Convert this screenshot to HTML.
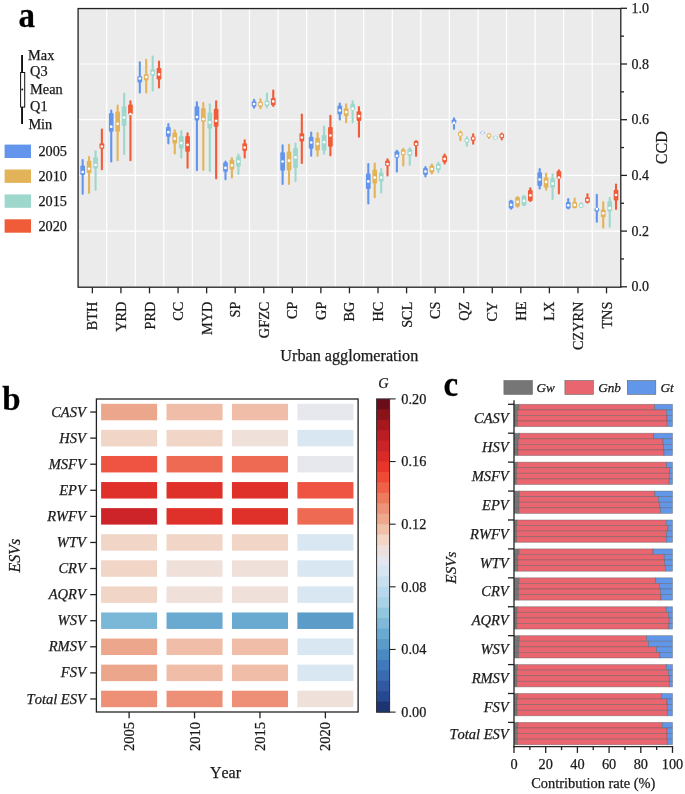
<!DOCTYPE html>
<html><head><meta charset="utf-8"><title>figure</title>
<style>
html,body{margin:0;padding:0;background:#fff;}
body{width:685px;height:794px;overflow:hidden;}
svg{display:block;will-change:transform;}
text{font-family:'Liberation Serif', serif;fill:#1a1a1a;font-kerning:none;stroke:#1a1a1a;stroke-width:0.25px;}
.t14{font-size:14.3px;}
.t16{font-size:16px;}
.t14r{font-size:14px;}
.t146{font-size:14.6px;}
.i14b{font-size:14.5px;font-style:italic;}
.i14c{font-size:14.5px;font-style:italic;}
.i13{font-size:13.2px;font-style:italic;}
.i14{font-size:14.3px;font-style:italic;}
.i16{font-size:16px;font-style:italic;}
.lab{font-size:33px;font-weight:bold;fill:#000;}
</style></head>
<body><svg width="685" height="794" viewBox="0 0 685 794">
<rect width="685" height="794" fill="#fff"/>
<rect x="78.1" y="8.55" width="542.6999999999999" height="278.65" fill="#EAEBEA"/>
<line x1="78.1" y1="231.10" x2="620.8" y2="231.10" stroke="#fff" stroke-width="1.2"/>
<line x1="78.1" y1="175.40" x2="620.8" y2="175.40" stroke="#fff" stroke-width="1.2"/>
<line x1="78.1" y1="119.70" x2="620.8" y2="119.70" stroke="#fff" stroke-width="1.2"/>
<line x1="78.1" y1="64.00" x2="620.8" y2="64.00" stroke="#fff" stroke-width="1.2"/>
<line x1="106.66" y1="8.55" x2="106.66" y2="286.8" stroke="#fff" stroke-width="1.2"/>
<line x1="135.23" y1="8.55" x2="135.23" y2="286.8" stroke="#fff" stroke-width="1.2"/>
<line x1="163.79" y1="8.55" x2="163.79" y2="286.8" stroke="#fff" stroke-width="1.2"/>
<line x1="192.35" y1="8.55" x2="192.35" y2="286.8" stroke="#fff" stroke-width="1.2"/>
<line x1="220.92" y1="8.55" x2="220.92" y2="286.8" stroke="#fff" stroke-width="1.2"/>
<line x1="249.48" y1="8.55" x2="249.48" y2="286.8" stroke="#fff" stroke-width="1.2"/>
<line x1="278.04" y1="8.55" x2="278.04" y2="286.8" stroke="#fff" stroke-width="1.2"/>
<line x1="306.61" y1="8.55" x2="306.61" y2="286.8" stroke="#fff" stroke-width="1.2"/>
<line x1="335.17" y1="8.55" x2="335.17" y2="286.8" stroke="#fff" stroke-width="1.2"/>
<line x1="363.73" y1="8.55" x2="363.73" y2="286.8" stroke="#fff" stroke-width="1.2"/>
<line x1="392.29" y1="8.55" x2="392.29" y2="286.8" stroke="#fff" stroke-width="1.2"/>
<line x1="420.86" y1="8.55" x2="420.86" y2="286.8" stroke="#fff" stroke-width="1.2"/>
<line x1="449.42" y1="8.55" x2="449.42" y2="286.8" stroke="#fff" stroke-width="1.2"/>
<line x1="477.98" y1="8.55" x2="477.98" y2="286.8" stroke="#fff" stroke-width="1.2"/>
<line x1="506.55" y1="8.55" x2="506.55" y2="286.8" stroke="#fff" stroke-width="1.2"/>
<line x1="535.11" y1="8.55" x2="535.11" y2="286.8" stroke="#fff" stroke-width="1.2"/>
<line x1="563.67" y1="8.55" x2="563.67" y2="286.8" stroke="#fff" stroke-width="1.2"/>
<line x1="592.24" y1="8.55" x2="592.24" y2="286.8" stroke="#fff" stroke-width="1.2"/>
<line x1="82.68" y1="160.05" x2="82.68" y2="193.65" stroke="#6495ED" stroke-width="2.1" stroke-linecap="round"/>
<rect x="80.33" y="165.50" width="4.7" height="9.50" rx="1" fill="#6495ED"/>
<circle cx="82.68" cy="172.00" r="1.35" fill="#fff"/>
<line x1="89.08" y1="157.05" x2="89.08" y2="192.85" stroke="#E3B35A" stroke-width="2.1" stroke-linecap="round"/>
<rect x="86.73" y="160.70" width="4.7" height="12.30" rx="1" fill="#E3B35A"/>
<circle cx="89.08" cy="168.80" r="1.35" fill="#fff"/>
<line x1="95.58" y1="151.35" x2="95.58" y2="189.65" stroke="#9ED8CD" stroke-width="2.1" stroke-linecap="round"/>
<rect x="93.23" y="157.30" width="4.7" height="11.30" rx="1" fill="#9ED8CD"/>
<circle cx="95.58" cy="165.00" r="1.35" fill="#fff"/>
<line x1="101.88" y1="129.65" x2="101.88" y2="169.15" stroke="#EF5C37" stroke-width="2.1" stroke-linecap="round"/>
<rect x="99.53" y="143.30" width="4.7" height="5.50" rx="1" fill="#EF5C37"/>
<circle cx="101.88" cy="146.50" r="1.35" fill="#fff"/>
<line x1="111.24" y1="110.65" x2="111.24" y2="161.55" stroke="#6495ED" stroke-width="2.1" stroke-linecap="round"/>
<rect x="108.89" y="113.00" width="4.7" height="18.70" rx="1" fill="#6495ED"/>
<circle cx="111.24" cy="126.70" r="1.35" fill="#fff"/>
<line x1="117.64" y1="105.65" x2="117.64" y2="160.25" stroke="#E3B35A" stroke-width="2.1" stroke-linecap="round"/>
<rect x="115.29" y="111.50" width="4.7" height="20.20" rx="1" fill="#E3B35A"/>
<circle cx="117.64" cy="123.80" r="1.35" fill="#fff"/>
<line x1="124.14" y1="93.65" x2="124.14" y2="153.95" stroke="#9ED8CD" stroke-width="2.1" stroke-linecap="round"/>
<rect x="121.79" y="106.20" width="4.7" height="19.80" rx="1" fill="#9ED8CD"/>
<circle cx="124.14" cy="117.60" r="1.35" fill="#fff"/>
<line x1="130.44" y1="101.25" x2="130.44" y2="160.25" stroke="#EF5C37" stroke-width="2.1" stroke-linecap="round"/>
<rect x="128.09" y="104.60" width="4.7" height="9.70" rx="1" fill="#EF5C37"/>
<circle cx="130.44" cy="114.00" r="1.35" fill="#fff"/>
<line x1="139.81" y1="62.25" x2="139.81" y2="92.55" stroke="#6495ED" stroke-width="2.1" stroke-linecap="round"/>
<rect x="137.46" y="76.30" width="4.7" height="6.20" rx="1" fill="#6495ED"/>
<circle cx="139.81" cy="78.50" r="1.35" fill="#fff"/>
<line x1="146.21" y1="59.75" x2="146.21" y2="92.55" stroke="#E3B35A" stroke-width="2.1" stroke-linecap="round"/>
<rect x="143.86" y="74.30" width="4.7" height="6.30" rx="1" fill="#E3B35A"/>
<circle cx="146.21" cy="77.00" r="1.35" fill="#fff"/>
<line x1="152.71" y1="56.45" x2="152.71" y2="90.45" stroke="#9ED8CD" stroke-width="2.1" stroke-linecap="round"/>
<rect x="150.36" y="69.60" width="4.7" height="6.00" rx="1" fill="#9ED8CD"/>
<circle cx="152.71" cy="72.80" r="1.35" fill="#fff"/>
<line x1="159.01" y1="61.45" x2="159.01" y2="87.45" stroke="#EF5C37" stroke-width="2.1" stroke-linecap="round"/>
<rect x="156.66" y="68.00" width="4.7" height="11.50" rx="1" fill="#EF5C37"/>
<circle cx="159.01" cy="74.40" r="1.35" fill="#fff"/>
<line x1="168.37" y1="124.05" x2="168.37" y2="143.35" stroke="#6495ED" stroke-width="2.1" stroke-linecap="round"/>
<rect x="166.02" y="126.90" width="4.7" height="9.90" rx="1" fill="#6495ED"/>
<circle cx="168.37" cy="132.20" r="1.35" fill="#fff"/>
<line x1="174.77" y1="130.35" x2="174.77" y2="153.45" stroke="#E3B35A" stroke-width="2.1" stroke-linecap="round"/>
<rect x="172.42" y="132.50" width="4.7" height="11.00" rx="1" fill="#E3B35A"/>
<circle cx="174.77" cy="138.70" r="1.35" fill="#fff"/>
<line x1="181.27" y1="131.35" x2="181.27" y2="157.55" stroke="#9ED8CD" stroke-width="2.1" stroke-linecap="round"/>
<rect x="178.92" y="135.90" width="4.7" height="12.60" rx="1" fill="#9ED8CD"/>
<circle cx="181.27" cy="143.10" r="1.35" fill="#fff"/>
<line x1="187.57" y1="133.25" x2="187.57" y2="167.65" stroke="#EF5C37" stroke-width="2.1" stroke-linecap="round"/>
<rect x="185.22" y="135.90" width="4.7" height="15.80" rx="1" fill="#EF5C37"/>
<circle cx="187.57" cy="144.80" r="1.35" fill="#fff"/>
<line x1="196.93" y1="102.35" x2="196.93" y2="170.15" stroke="#6495ED" stroke-width="2.1" stroke-linecap="round"/>
<rect x="194.58" y="106.30" width="4.7" height="14.10" rx="1" fill="#6495ED"/>
<circle cx="196.93" cy="117.00" r="1.35" fill="#fff"/>
<line x1="203.33" y1="102.95" x2="203.33" y2="169.85" stroke="#E3B35A" stroke-width="2.1" stroke-linecap="round"/>
<rect x="200.98" y="108.20" width="4.7" height="13.50" rx="1" fill="#E3B35A"/>
<circle cx="203.33" cy="119.20" r="1.35" fill="#fff"/>
<line x1="209.83" y1="104.25" x2="209.83" y2="171.05" stroke="#9ED8CD" stroke-width="2.1" stroke-linecap="round"/>
<rect x="207.48" y="112.60" width="4.7" height="16.20" rx="1" fill="#9ED8CD"/>
<circle cx="209.83" cy="122.40" r="1.35" fill="#fff"/>
<line x1="216.13" y1="101.35" x2="216.13" y2="178.35" stroke="#EF5C37" stroke-width="2.1" stroke-linecap="round"/>
<rect x="213.78" y="108.80" width="4.7" height="17.90" rx="1" fill="#EF5C37"/>
<circle cx="216.13" cy="120.80" r="1.35" fill="#fff"/>
<line x1="225.50" y1="161.65" x2="225.50" y2="179.25" stroke="#6495ED" stroke-width="2.1" stroke-linecap="round"/>
<rect x="223.15" y="162.20" width="4.7" height="9.50" rx="1" fill="#6495ED"/>
<circle cx="225.50" cy="167.90" r="1.35" fill="#fff"/>
<line x1="231.90" y1="158.25" x2="231.90" y2="177.55" stroke="#E3B35A" stroke-width="2.1" stroke-linecap="round"/>
<rect x="229.55" y="159.70" width="4.7" height="9.70" rx="1" fill="#E3B35A"/>
<circle cx="231.90" cy="165.40" r="1.35" fill="#fff"/>
<line x1="238.40" y1="154.45" x2="238.40" y2="173.85" stroke="#9ED8CD" stroke-width="2.1" stroke-linecap="round"/>
<rect x="236.05" y="156.60" width="4.7" height="10.10" rx="1" fill="#9ED8CD"/>
<circle cx="238.40" cy="161.60" r="1.35" fill="#fff"/>
<line x1="244.70" y1="140.25" x2="244.70" y2="157.45" stroke="#EF5C37" stroke-width="2.1" stroke-linecap="round"/>
<rect x="242.35" y="143.30" width="4.7" height="7.60" rx="1" fill="#EF5C37"/>
<circle cx="244.70" cy="147.50" r="1.35" fill="#fff"/>
<line x1="254.06" y1="99.75" x2="254.06" y2="107.75" stroke="#6495ED" stroke-width="2.1" stroke-linecap="round"/>
<rect x="251.71" y="101.20" width="4.7" height="5.50" rx="1" fill="#6495ED"/>
<circle cx="254.06" cy="104.00" r="1.35" fill="#fff"/>
<line x1="260.46" y1="99.35" x2="260.46" y2="108.25" stroke="#E3B35A" stroke-width="2.1" stroke-linecap="round"/>
<rect x="258.11" y="101.70" width="4.7" height="5.00" rx="1" fill="#E3B35A"/>
<circle cx="260.46" cy="104.20" r="1.35" fill="#fff"/>
<line x1="266.96" y1="93.65" x2="266.96" y2="107.35" stroke="#9ED8CD" stroke-width="2.1" stroke-linecap="round"/>
<rect x="264.61" y="100.80" width="4.7" height="5.10" rx="1" fill="#9ED8CD"/>
<circle cx="266.96" cy="103.30" r="1.35" fill="#fff"/>
<line x1="273.26" y1="90.55" x2="273.26" y2="106.05" stroke="#EF5C37" stroke-width="2.1" stroke-linecap="round"/>
<rect x="270.91" y="97.90" width="4.7" height="7.30" rx="1" fill="#EF5C37"/>
<circle cx="273.26" cy="101.40" r="1.35" fill="#fff"/>
<line x1="282.62" y1="145.35" x2="282.62" y2="183.95" stroke="#6495ED" stroke-width="2.1" stroke-linecap="round"/>
<rect x="280.27" y="152.20" width="4.7" height="18.60" rx="1" fill="#6495ED"/>
<circle cx="282.62" cy="161.50" r="1.35" fill="#fff"/>
<line x1="289.02" y1="144.85" x2="289.02" y2="183.95" stroke="#E3B35A" stroke-width="2.1" stroke-linecap="round"/>
<rect x="286.67" y="151.40" width="4.7" height="19.10" rx="1" fill="#E3B35A"/>
<circle cx="289.02" cy="160.70" r="1.35" fill="#fff"/>
<line x1="295.52" y1="143.55" x2="295.52" y2="180.85" stroke="#9ED8CD" stroke-width="2.1" stroke-linecap="round"/>
<rect x="293.17" y="148.10" width="4.7" height="19.90" rx="1" fill="#9ED8CD"/>
<circle cx="295.52" cy="157.30" r="1.35" fill="#fff"/>
<line x1="301.82" y1="114.55" x2="301.82" y2="162.95" stroke="#EF5C37" stroke-width="2.1" stroke-linecap="round"/>
<rect x="299.47" y="133.30" width="4.7" height="8.20" rx="1" fill="#EF5C37"/>
<circle cx="301.82" cy="137.50" r="1.35" fill="#fff"/>
<line x1="311.19" y1="132.45" x2="311.19" y2="155.65" stroke="#6495ED" stroke-width="2.1" stroke-linecap="round"/>
<rect x="308.84" y="136.70" width="4.7" height="12.10" rx="1" fill="#6495ED"/>
<circle cx="311.19" cy="142.50" r="1.35" fill="#fff"/>
<line x1="317.59" y1="133.15" x2="317.59" y2="155.85" stroke="#E3B35A" stroke-width="2.1" stroke-linecap="round"/>
<rect x="315.24" y="137.70" width="4.7" height="12.90" rx="1" fill="#E3B35A"/>
<circle cx="317.59" cy="143.80" r="1.35" fill="#fff"/>
<line x1="324.09" y1="126.45" x2="324.09" y2="153.75" stroke="#9ED8CD" stroke-width="2.1" stroke-linecap="round"/>
<rect x="321.74" y="135.00" width="4.7" height="15.60" rx="1" fill="#9ED8CD"/>
<circle cx="324.09" cy="142.20" r="1.35" fill="#fff"/>
<line x1="330.39" y1="115.85" x2="330.39" y2="155.35" stroke="#EF5C37" stroke-width="2.1" stroke-linecap="round"/>
<rect x="328.04" y="127.00" width="4.7" height="19.80" rx="1" fill="#EF5C37"/>
<circle cx="330.39" cy="135.50" r="1.35" fill="#fff"/>
<line x1="339.75" y1="103.45" x2="339.75" y2="119.45" stroke="#6495ED" stroke-width="2.1" stroke-linecap="round"/>
<rect x="337.40" y="105.40" width="4.7" height="9.20" rx="1" fill="#6495ED"/>
<circle cx="339.75" cy="110.40" r="1.35" fill="#fff"/>
<line x1="346.15" y1="104.25" x2="346.15" y2="122.35" stroke="#E3B35A" stroke-width="2.1" stroke-linecap="round"/>
<rect x="343.80" y="108.30" width="4.7" height="7.60" rx="1" fill="#E3B35A"/>
<circle cx="346.15" cy="112.10" r="1.35" fill="#fff"/>
<line x1="352.65" y1="101.35" x2="352.65" y2="122.35" stroke="#9ED8CD" stroke-width="2.1" stroke-linecap="round"/>
<rect x="350.30" y="104.10" width="4.7" height="5.80" rx="1" fill="#9ED8CD"/>
<circle cx="352.65" cy="108.70" r="1.35" fill="#fff"/>
<line x1="358.95" y1="107.15" x2="358.95" y2="136.65" stroke="#EF5C37" stroke-width="2.1" stroke-linecap="round"/>
<rect x="356.60" y="111.20" width="4.7" height="9.70" rx="1" fill="#EF5C37"/>
<circle cx="358.95" cy="116.20" r="1.35" fill="#fff"/>
<line x1="368.31" y1="164.05" x2="368.31" y2="203.55" stroke="#6495ED" stroke-width="2.1" stroke-linecap="round"/>
<rect x="365.96" y="173.40" width="4.7" height="15.50" rx="1" fill="#6495ED"/>
<circle cx="368.31" cy="181.40" r="1.35" fill="#fff"/>
<line x1="374.71" y1="163.45" x2="374.71" y2="197.25" stroke="#E3B35A" stroke-width="2.1" stroke-linecap="round"/>
<rect x="372.36" y="169.60" width="4.7" height="13.90" rx="1" fill="#E3B35A"/>
<circle cx="374.71" cy="177.50" r="1.35" fill="#fff"/>
<line x1="381.21" y1="169.05" x2="381.21" y2="192.55" stroke="#9ED8CD" stroke-width="2.1" stroke-linecap="round"/>
<rect x="378.86" y="172.50" width="4.7" height="9.10" rx="1" fill="#9ED8CD"/>
<circle cx="381.21" cy="177.60" r="1.35" fill="#fff"/>
<line x1="387.51" y1="159.35" x2="387.51" y2="175.55" stroke="#EF5C37" stroke-width="2.1" stroke-linecap="round"/>
<rect x="385.16" y="160.40" width="4.7" height="5.50" rx="1" fill="#EF5C37"/>
<circle cx="387.51" cy="164.00" r="1.35" fill="#fff"/>
<line x1="396.88" y1="150.85" x2="396.88" y2="171.45" stroke="#6495ED" stroke-width="2.1" stroke-linecap="round"/>
<rect x="394.53" y="151.30" width="4.7" height="6.40" rx="1" fill="#6495ED"/>
<circle cx="396.88" cy="155.80" r="1.35" fill="#fff"/>
<line x1="403.28" y1="148.85" x2="403.28" y2="165.45" stroke="#E3B35A" stroke-width="2.1" stroke-linecap="round"/>
<rect x="400.93" y="149.50" width="4.7" height="5.40" rx="1" fill="#E3B35A"/>
<circle cx="403.28" cy="152.90" r="1.35" fill="#fff"/>
<line x1="409.78" y1="148.35" x2="409.78" y2="164.85" stroke="#9ED8CD" stroke-width="2.1" stroke-linecap="round"/>
<rect x="407.43" y="149.10" width="4.7" height="6.70" rx="1" fill="#9ED8CD"/>
<circle cx="409.78" cy="153.00" r="1.35" fill="#fff"/>
<line x1="416.08" y1="141.05" x2="416.08" y2="155.85" stroke="#EF5C37" stroke-width="2.1" stroke-linecap="round"/>
<rect x="413.73" y="140.90" width="4.7" height="5.00" rx="1" fill="#EF5C37"/>
<circle cx="416.08" cy="144.00" r="1.35" fill="#fff"/>
<line x1="425.44" y1="167.15" x2="425.44" y2="176.45" stroke="#6495ED" stroke-width="2.1" stroke-linecap="round"/>
<rect x="423.09" y="168.00" width="4.7" height="6.90" rx="1" fill="#6495ED"/>
<circle cx="425.44" cy="171.50" r="1.35" fill="#fff"/>
<line x1="431.84" y1="164.65" x2="431.84" y2="173.55" stroke="#E3B35A" stroke-width="2.1" stroke-linecap="round"/>
<rect x="429.49" y="165.50" width="4.7" height="6.90" rx="1" fill="#E3B35A"/>
<circle cx="431.84" cy="169.00" r="1.35" fill="#fff"/>
<line x1="438.34" y1="162.75" x2="438.34" y2="171.95" stroke="#9ED8CD" stroke-width="2.1" stroke-linecap="round"/>
<rect x="435.99" y="163.60" width="4.7" height="6.30" rx="1" fill="#9ED8CD"/>
<circle cx="438.34" cy="167.10" r="1.35" fill="#fff"/>
<line x1="444.64" y1="154.55" x2="444.64" y2="163.45" stroke="#EF5C37" stroke-width="2.1" stroke-linecap="round"/>
<rect x="442.29" y="155.40" width="4.7" height="6.90" rx="1" fill="#EF5C37"/>
<circle cx="444.64" cy="158.90" r="1.35" fill="#fff"/>
<line x1="454.00" y1="118.35" x2="454.00" y2="128.75" stroke="#6495ED" stroke-width="2.1" stroke-linecap="round"/>
<rect x="451.65" y="119.40" width="4.7" height="4.20" rx="1" fill="#6495ED"/>
<circle cx="454.00" cy="122.90" r="1.35" fill="#fff"/>
<line x1="460.40" y1="131.65" x2="460.40" y2="140.15" stroke="#E3B35A" stroke-width="2.1" stroke-linecap="round"/>
<rect x="458.05" y="132.00" width="4.7" height="3.90" rx="1" fill="#E3B35A"/>
<circle cx="460.40" cy="134.40" r="1.35" fill="#fff"/>
<line x1="466.90" y1="137.35" x2="466.90" y2="145.75" stroke="#9ED8CD" stroke-width="2.1" stroke-linecap="round"/>
<rect x="464.55" y="138.50" width="4.7" height="4.00" rx="1" fill="#9ED8CD"/>
<circle cx="466.90" cy="140.50" r="1.35" fill="#fff"/>
<line x1="473.20" y1="134.35" x2="473.20" y2="143.75" stroke="#EF5C37" stroke-width="2.1" stroke-linecap="round"/>
<rect x="470.85" y="136.60" width="4.7" height="4.10" rx="1" fill="#EF5C37"/>
<circle cx="473.20" cy="138.50" r="1.35" fill="#fff"/>
<line x1="482.57" y1="132.35" x2="482.57" y2="133.35" stroke="#6495ED" stroke-width="2.1" stroke-linecap="round"/>
<rect x="480.22" y="132.00" width="4.7" height="1.60" rx="1" fill="#6495ED"/>
<circle cx="482.57" cy="132.80" r="1.35" fill="#fff"/>
<line x1="488.97" y1="134.15" x2="488.97" y2="137.95" stroke="#E3B35A" stroke-width="2.1" stroke-linecap="round"/>
<rect x="486.62" y="133.70" width="4.7" height="3.50" rx="1" fill="#E3B35A"/>
<circle cx="488.97" cy="135.50" r="1.35" fill="#fff"/>
<line x1="495.47" y1="136.55" x2="495.47" y2="138.75" stroke="#9ED8CD" stroke-width="2.1" stroke-linecap="round"/>
<rect x="493.12" y="136.00" width="4.7" height="3.30" rx="1" fill="#9ED8CD"/>
<circle cx="495.47" cy="137.70" r="1.35" fill="#fff"/>
<line x1="501.77" y1="133.65" x2="501.77" y2="139.45" stroke="#EF5C37" stroke-width="2.1" stroke-linecap="round"/>
<rect x="499.42" y="133.70" width="4.7" height="4.40" rx="1" fill="#EF5C37"/>
<circle cx="501.77" cy="135.90" r="1.35" fill="#fff"/>
<line x1="511.13" y1="200.85" x2="511.13" y2="208.65" stroke="#6495ED" stroke-width="2.1" stroke-linecap="round"/>
<rect x="508.78" y="200.40" width="4.7" height="8.20" rx="1" fill="#6495ED"/>
<circle cx="511.13" cy="204.80" r="1.35" fill="#fff"/>
<line x1="517.53" y1="197.05" x2="517.53" y2="206.65" stroke="#E3B35A" stroke-width="2.1" stroke-linecap="round"/>
<rect x="515.18" y="196.90" width="4.7" height="9.90" rx="1" fill="#E3B35A"/>
<circle cx="517.53" cy="201.80" r="1.35" fill="#fff"/>
<line x1="524.03" y1="196.15" x2="524.03" y2="205.35" stroke="#9ED8CD" stroke-width="2.1" stroke-linecap="round"/>
<rect x="521.68" y="195.80" width="4.7" height="9.70" rx="1" fill="#9ED8CD"/>
<circle cx="524.03" cy="200.90" r="1.35" fill="#fff"/>
<line x1="530.33" y1="188.25" x2="530.33" y2="200.95" stroke="#EF5C37" stroke-width="2.1" stroke-linecap="round"/>
<rect x="527.98" y="190.10" width="4.7" height="10.80" rx="1" fill="#EF5C37"/>
<circle cx="530.33" cy="195.40" r="1.35" fill="#fff"/>
<line x1="539.69" y1="169.15" x2="539.69" y2="188.55" stroke="#6495ED" stroke-width="2.1" stroke-linecap="round"/>
<rect x="537.34" y="172.20" width="4.7" height="13.70" rx="1" fill="#6495ED"/>
<circle cx="539.69" cy="179.50" r="1.35" fill="#fff"/>
<line x1="546.09" y1="173.55" x2="546.09" y2="189.65" stroke="#E3B35A" stroke-width="2.1" stroke-linecap="round"/>
<rect x="543.74" y="177.50" width="4.7" height="10.20" rx="1" fill="#E3B35A"/>
<circle cx="546.09" cy="181.90" r="1.35" fill="#fff"/>
<line x1="552.59" y1="174.35" x2="552.59" y2="198.95" stroke="#9ED8CD" stroke-width="2.1" stroke-linecap="round"/>
<rect x="550.24" y="178.00" width="4.7" height="9.70" rx="1" fill="#9ED8CD"/>
<circle cx="552.59" cy="183.70" r="1.35" fill="#fff"/>
<line x1="558.89" y1="170.25" x2="558.89" y2="193.45" stroke="#EF5C37" stroke-width="2.1" stroke-linecap="round"/>
<rect x="556.54" y="171.10" width="4.7" height="7.50" rx="1" fill="#EF5C37"/>
<circle cx="558.89" cy="177.50" r="1.35" fill="#fff"/>
<line x1="568.26" y1="199.15" x2="568.26" y2="208.45" stroke="#6495ED" stroke-width="2.1" stroke-linecap="round"/>
<rect x="565.91" y="202.00" width="4.7" height="6.40" rx="1" fill="#6495ED"/>
<circle cx="568.26" cy="205.30" r="1.35" fill="#fff"/>
<line x1="574.66" y1="198.65" x2="574.66" y2="207.55" stroke="#E3B35A" stroke-width="2.1" stroke-linecap="round"/>
<rect x="572.31" y="202.00" width="4.7" height="6.00" rx="1" fill="#E3B35A"/>
<circle cx="574.66" cy="204.90" r="1.35" fill="#fff"/>
<line x1="581.16" y1="202.95" x2="581.16" y2="206.95" stroke="#9ED8CD" stroke-width="2.1" stroke-linecap="round"/>
<rect x="578.81" y="203.50" width="4.7" height="4.00" rx="1" fill="#9ED8CD"/>
<circle cx="581.16" cy="205.70" r="1.35" fill="#fff"/>
<line x1="587.46" y1="194.25" x2="587.46" y2="202.55" stroke="#EF5C37" stroke-width="2.1" stroke-linecap="round"/>
<rect x="585.11" y="197.20" width="4.7" height="5.50" rx="1" fill="#EF5C37"/>
<circle cx="587.46" cy="200.10" r="1.35" fill="#fff"/>
<line x1="596.82" y1="194.75" x2="596.82" y2="221.65" stroke="#6495ED" stroke-width="2.1" stroke-linecap="round"/>
<rect x="594.47" y="208.00" width="4.7" height="3.50" rx="1" fill="#6495ED"/>
<circle cx="596.82" cy="209.10" r="1.35" fill="#fff"/>
<line x1="603.22" y1="202.35" x2="603.22" y2="227.45" stroke="#E3B35A" stroke-width="2.1" stroke-linecap="round"/>
<rect x="600.87" y="209.50" width="4.7" height="7.70" rx="1" fill="#E3B35A"/>
<circle cx="603.22" cy="213.30" r="1.35" fill="#fff"/>
<line x1="609.72" y1="197.95" x2="609.72" y2="226.75" stroke="#9ED8CD" stroke-width="2.1" stroke-linecap="round"/>
<rect x="607.37" y="201.00" width="4.7" height="10.50" rx="1" fill="#9ED8CD"/>
<circle cx="609.72" cy="208.20" r="1.35" fill="#fff"/>
<line x1="616.02" y1="184.55" x2="616.02" y2="209.05" stroke="#EF5C37" stroke-width="2.1" stroke-linecap="round"/>
<rect x="613.67" y="189.70" width="4.7" height="10.70" rx="1" fill="#EF5C37"/>
<circle cx="616.02" cy="195.00" r="1.35" fill="#fff"/>
<rect x="78.1" y="8.55" width="542.6999999999999" height="278.65" fill="none" stroke="#222" stroke-width="1.3"/>
<line x1="620.8" y1="286.80" x2="627.00" y2="286.80" stroke="#222" stroke-width="1.3"/>
<text x="631.4" y="291.40" class="t14r">0.0</text>
<line x1="620.8" y1="258.95" x2="624.00" y2="258.95" stroke="#222" stroke-width="1.3"/>
<line x1="620.8" y1="231.10" x2="627.00" y2="231.10" stroke="#222" stroke-width="1.3"/>
<text x="631.4" y="235.70" class="t14r">0.2</text>
<line x1="620.8" y1="203.25" x2="624.00" y2="203.25" stroke="#222" stroke-width="1.3"/>
<line x1="620.8" y1="175.40" x2="627.00" y2="175.40" stroke="#222" stroke-width="1.3"/>
<text x="631.4" y="180.00" class="t14r">0.4</text>
<line x1="620.8" y1="147.55" x2="624.00" y2="147.55" stroke="#222" stroke-width="1.3"/>
<line x1="620.8" y1="119.70" x2="627.00" y2="119.70" stroke="#222" stroke-width="1.3"/>
<text x="631.4" y="124.30" class="t14r">0.6</text>
<line x1="620.8" y1="91.85" x2="624.00" y2="91.85" stroke="#222" stroke-width="1.3"/>
<line x1="620.8" y1="64.00" x2="627.00" y2="64.00" stroke="#222" stroke-width="1.3"/>
<text x="631.4" y="68.60" class="t14r">0.8</text>
<line x1="620.8" y1="36.15" x2="624.00" y2="36.15" stroke="#222" stroke-width="1.3"/>
<line x1="620.8" y1="8.30" x2="627.00" y2="8.30" stroke="#222" stroke-width="1.3"/>
<text x="631.4" y="12.90" class="t14r">1.0</text>
<line x1="92.38" y1="287.2" x2="92.38" y2="293.3" stroke="#222" stroke-width="1.3"/>
<text transform="translate(97.38,301.6) rotate(-90)" text-anchor="end" class="t14">BTH</text>
<line x1="120.94" y1="287.2" x2="120.94" y2="293.3" stroke="#222" stroke-width="1.3"/>
<text transform="translate(125.94,301.6) rotate(-90)" text-anchor="end" class="t14">YRD</text>
<line x1="149.51" y1="287.2" x2="149.51" y2="293.3" stroke="#222" stroke-width="1.3"/>
<text transform="translate(154.51,301.6) rotate(-90)" text-anchor="end" class="t14">PRD</text>
<line x1="178.07" y1="287.2" x2="178.07" y2="293.3" stroke="#222" stroke-width="1.3"/>
<text transform="translate(183.07,301.6) rotate(-90)" text-anchor="end" class="t14">CC</text>
<line x1="206.63" y1="287.2" x2="206.63" y2="293.3" stroke="#222" stroke-width="1.3"/>
<text transform="translate(211.63,301.6) rotate(-90)" text-anchor="end" class="t14">MYD</text>
<line x1="235.20" y1="287.2" x2="235.20" y2="293.3" stroke="#222" stroke-width="1.3"/>
<text transform="translate(240.20,301.6) rotate(-90)" text-anchor="end" class="t14">SP</text>
<line x1="263.76" y1="287.2" x2="263.76" y2="293.3" stroke="#222" stroke-width="1.3"/>
<text transform="translate(268.76,301.6) rotate(-90)" text-anchor="end" class="t14">GFZC</text>
<line x1="292.32" y1="287.2" x2="292.32" y2="293.3" stroke="#222" stroke-width="1.3"/>
<text transform="translate(297.32,301.6) rotate(-90)" text-anchor="end" class="t14">CP</text>
<line x1="320.89" y1="287.2" x2="320.89" y2="293.3" stroke="#222" stroke-width="1.3"/>
<text transform="translate(325.89,301.6) rotate(-90)" text-anchor="end" class="t14">GP</text>
<line x1="349.45" y1="287.2" x2="349.45" y2="293.3" stroke="#222" stroke-width="1.3"/>
<text transform="translate(354.45,301.6) rotate(-90)" text-anchor="end" class="t14">BG</text>
<line x1="378.01" y1="287.2" x2="378.01" y2="293.3" stroke="#222" stroke-width="1.3"/>
<text transform="translate(383.01,301.6) rotate(-90)" text-anchor="end" class="t14">HC</text>
<line x1="406.58" y1="287.2" x2="406.58" y2="293.3" stroke="#222" stroke-width="1.3"/>
<text transform="translate(411.58,301.6) rotate(-90)" text-anchor="end" class="t14">SCL</text>
<line x1="435.14" y1="287.2" x2="435.14" y2="293.3" stroke="#222" stroke-width="1.3"/>
<text transform="translate(440.14,301.6) rotate(-90)" text-anchor="end" class="t14">CS</text>
<line x1="463.70" y1="287.2" x2="463.70" y2="293.3" stroke="#222" stroke-width="1.3"/>
<text transform="translate(468.70,301.6) rotate(-90)" text-anchor="end" class="t14">QZ</text>
<line x1="492.27" y1="287.2" x2="492.27" y2="293.3" stroke="#222" stroke-width="1.3"/>
<text transform="translate(497.27,301.6) rotate(-90)" text-anchor="end" class="t14">CY</text>
<line x1="520.83" y1="287.2" x2="520.83" y2="293.3" stroke="#222" stroke-width="1.3"/>
<text transform="translate(525.83,301.6) rotate(-90)" text-anchor="end" class="t14">HE</text>
<line x1="549.39" y1="287.2" x2="549.39" y2="293.3" stroke="#222" stroke-width="1.3"/>
<text transform="translate(554.39,301.6) rotate(-90)" text-anchor="end" class="t14">LX</text>
<line x1="577.96" y1="287.2" x2="577.96" y2="293.3" stroke="#222" stroke-width="1.3"/>
<text transform="translate(582.96,301.6) rotate(-90)" text-anchor="end" class="t14">CZYRN</text>
<line x1="606.52" y1="287.2" x2="606.52" y2="293.3" stroke="#222" stroke-width="1.3"/>
<text transform="translate(611.52,301.6) rotate(-90)" text-anchor="end" class="t14">TNS</text>
<text x="349.3" y="361.4" text-anchor="middle" style="font-size:16.2px">Urban agglomeration</text>
<text transform="translate(667.4,147.7) rotate(-90)" text-anchor="middle" class="t16">CCD</text>
<text transform="translate(18.6,27.3) scale(1,1.065)" class="lab">a</text>
<line x1="22.05" y1="55" x2="22.05" y2="124" stroke="#111" stroke-width="1.9"/>
<rect x="20.6" y="72.5" width="4.1" height="34.6" fill="#fff" stroke="#111" stroke-width="1"/>
<circle cx="22.3" cy="89.5" r="0.95" fill="#111"/>
<text x="28.1" y="59.8" class="t14">Max</text>
<text x="30.1" y="76.4" class="t14">Q3</text>
<text x="30.1" y="94.3" class="t14">Mean</text>
<text x="30.1" y="111.4" class="t14">Q1</text>
<text x="28.4" y="129.0" class="t14">Min</text>
<rect x="4.6" y="144.60" width="26.4" height="13.4" fill="#6495ED"/>
<text x="38.4" y="156.40" class="t14">2005</text>
<rect x="4.6" y="169.50" width="26.4" height="13.4" fill="#E3B35A"/>
<text x="38.4" y="181.30" class="t14">2010</text>
<rect x="4.6" y="194.40" width="26.4" height="13.4" fill="#9ED8CD"/>
<text x="38.4" y="206.20" class="t14">2015</text>
<rect x="4.6" y="219.30" width="26.4" height="13.4" fill="#EF5C37"/>
<text x="38.4" y="231.10" class="t14">2020</text>
<rect x="101.10" y="403.80" width="56.03" height="16.48" fill="#eba68c"/>
<rect x="166.53" y="403.80" width="56.03" height="16.48" fill="#f0bda8"/>
<rect x="231.95" y="403.80" width="56.03" height="16.48" fill="#f0bda8"/>
<rect x="297.38" y="403.80" width="56.03" height="16.48" fill="#e6e8ee"/>
<rect x="101.10" y="429.88" width="56.03" height="16.48" fill="#f1d5c6"/>
<rect x="166.53" y="429.88" width="56.03" height="16.48" fill="#f1d5c6"/>
<rect x="231.95" y="429.88" width="56.03" height="16.48" fill="#efe0da"/>
<rect x="297.38" y="429.88" width="56.03" height="16.48" fill="#d8e7f2"/>
<rect x="101.10" y="455.97" width="56.03" height="16.48" fill="#ef5442"/>
<rect x="166.53" y="455.97" width="56.03" height="16.48" fill="#ef6a52"/>
<rect x="231.95" y="455.97" width="56.03" height="16.48" fill="#ef6a52"/>
<rect x="297.38" y="455.97" width="56.03" height="16.48" fill="#e6e8ee"/>
<rect x="101.10" y="482.05" width="56.03" height="16.48" fill="#e0302a"/>
<rect x="166.53" y="482.05" width="56.03" height="16.48" fill="#e0302a"/>
<rect x="231.95" y="482.05" width="56.03" height="16.48" fill="#e0302a"/>
<rect x="297.38" y="482.05" width="56.03" height="16.48" fill="#ef5442"/>
<rect x="101.10" y="508.13" width="56.03" height="16.48" fill="#cc2428"/>
<rect x="166.53" y="508.13" width="56.03" height="16.48" fill="#e0302a"/>
<rect x="231.95" y="508.13" width="56.03" height="16.48" fill="#e0302a"/>
<rect x="297.38" y="508.13" width="56.03" height="16.48" fill="#ef6a52"/>
<rect x="101.10" y="534.22" width="56.03" height="16.48" fill="#f1d5c6"/>
<rect x="166.53" y="534.22" width="56.03" height="16.48" fill="#f1d5c6"/>
<rect x="231.95" y="534.22" width="56.03" height="16.48" fill="#f1d5c6"/>
<rect x="297.38" y="534.22" width="56.03" height="16.48" fill="#d8e7f2"/>
<rect x="101.10" y="560.30" width="56.03" height="16.48" fill="#f1d5c6"/>
<rect x="166.53" y="560.30" width="56.03" height="16.48" fill="#efe0da"/>
<rect x="231.95" y="560.30" width="56.03" height="16.48" fill="#efe0da"/>
<rect x="297.38" y="560.30" width="56.03" height="16.48" fill="#d8e7f2"/>
<rect x="101.10" y="586.38" width="56.03" height="16.48" fill="#f1d5c6"/>
<rect x="166.53" y="586.38" width="56.03" height="16.48" fill="#efe0da"/>
<rect x="231.95" y="586.38" width="56.03" height="16.48" fill="#efe0da"/>
<rect x="297.38" y="586.38" width="56.03" height="16.48" fill="#d8e7f2"/>
<rect x="101.10" y="612.47" width="56.03" height="16.48" fill="#7bb8d8"/>
<rect x="166.53" y="612.47" width="56.03" height="16.48" fill="#6aaad0"/>
<rect x="231.95" y="612.47" width="56.03" height="16.48" fill="#6aaad0"/>
<rect x="297.38" y="612.47" width="56.03" height="16.48" fill="#5b9cc8"/>
<rect x="101.10" y="638.55" width="56.03" height="16.48" fill="#eba68c"/>
<rect x="166.53" y="638.55" width="56.03" height="16.48" fill="#f0bda8"/>
<rect x="231.95" y="638.55" width="56.03" height="16.48" fill="#f0bda8"/>
<rect x="297.38" y="638.55" width="56.03" height="16.48" fill="#d8e7f2"/>
<rect x="101.10" y="664.63" width="56.03" height="16.48" fill="#eba68c"/>
<rect x="166.53" y="664.63" width="56.03" height="16.48" fill="#f0bda8"/>
<rect x="231.95" y="664.63" width="56.03" height="16.48" fill="#f0bda8"/>
<rect x="297.38" y="664.63" width="56.03" height="16.48" fill="#d8e7f2"/>
<rect x="101.10" y="690.72" width="56.03" height="16.48" fill="#ee9078"/>
<rect x="166.53" y="690.72" width="56.03" height="16.48" fill="#ee9078"/>
<rect x="231.95" y="690.72" width="56.03" height="16.48" fill="#ee9078"/>
<rect x="297.38" y="690.72" width="56.03" height="16.48" fill="#efe0da"/>
<rect x="96.4" y="399.0" width="261.70000000000005" height="313.0" fill="none" stroke="#222" stroke-width="1.3"/>
<line x1="90.2" y1="412.04" x2="96.4" y2="412.04" stroke="#222" stroke-width="1.3"/>
<text x="85.8" y="416.64" text-anchor="end" class="i14b">CASV</text>
<line x1="90.2" y1="438.12" x2="96.4" y2="438.12" stroke="#222" stroke-width="1.3"/>
<text x="85.8" y="442.73" text-anchor="end" class="i14b">HSV</text>
<line x1="90.2" y1="464.21" x2="96.4" y2="464.21" stroke="#222" stroke-width="1.3"/>
<text x="85.8" y="468.81" text-anchor="end" class="i14b">MSFV</text>
<line x1="90.2" y1="490.29" x2="96.4" y2="490.29" stroke="#222" stroke-width="1.3"/>
<text x="85.8" y="494.89" text-anchor="end" class="i14b">EPV</text>
<line x1="90.2" y1="516.38" x2="96.4" y2="516.38" stroke="#222" stroke-width="1.3"/>
<text x="85.8" y="520.98" text-anchor="end" class="i14b">RWFV</text>
<line x1="90.2" y1="542.46" x2="96.4" y2="542.46" stroke="#222" stroke-width="1.3"/>
<text x="85.8" y="547.06" text-anchor="end" class="i14b">WTV</text>
<line x1="90.2" y1="568.54" x2="96.4" y2="568.54" stroke="#222" stroke-width="1.3"/>
<text x="85.8" y="573.14" text-anchor="end" class="i14b">CRV</text>
<line x1="90.2" y1="594.62" x2="96.4" y2="594.62" stroke="#222" stroke-width="1.3"/>
<text x="85.8" y="599.23" text-anchor="end" class="i14b">AQRV</text>
<line x1="90.2" y1="620.71" x2="96.4" y2="620.71" stroke="#222" stroke-width="1.3"/>
<text x="85.8" y="625.31" text-anchor="end" class="i14b">WSV</text>
<line x1="90.2" y1="646.79" x2="96.4" y2="646.79" stroke="#222" stroke-width="1.3"/>
<text x="85.8" y="651.39" text-anchor="end" class="i14b">RMSV</text>
<line x1="90.2" y1="672.88" x2="96.4" y2="672.88" stroke="#222" stroke-width="1.3"/>
<text x="85.8" y="677.48" text-anchor="end" class="i14b">FSV</text>
<line x1="90.2" y1="698.96" x2="96.4" y2="698.96" stroke="#222" stroke-width="1.3"/>
<text x="85.8" y="703.56" text-anchor="end" class="i14b">Total ESV</text>
<line x1="129.11" y1="712.0" x2="129.11" y2="718.3" stroke="#222" stroke-width="1.3"/>
<text transform="translate(134.21,721.9) rotate(-90)" text-anchor="end" class="t146">2005</text>
<line x1="194.54" y1="712.0" x2="194.54" y2="718.3" stroke="#222" stroke-width="1.3"/>
<text transform="translate(199.64,721.9) rotate(-90)" text-anchor="end" class="t146">2010</text>
<line x1="259.96" y1="712.0" x2="259.96" y2="718.3" stroke="#222" stroke-width="1.3"/>
<text transform="translate(265.06,721.9) rotate(-90)" text-anchor="end" class="t146">2015</text>
<line x1="325.39" y1="712.0" x2="325.39" y2="718.3" stroke="#222" stroke-width="1.3"/>
<text transform="translate(330.49,721.9) rotate(-90)" text-anchor="end" class="t146">2020</text>
<text x="225.5" y="777.7" text-anchor="middle" class="t16">Year</text>
<text transform="translate(20.0,555.6) rotate(-90)" text-anchor="middle" class="i16">ESVs</text>
<text transform="translate(2.3,409.7) scale(1,1.045)" class="lab">b</text>
<rect x="376.6" y="398.90" width="13.00" height="313.20" fill="#6a0d18"/>
<rect x="376.6" y="409.34" width="13.00" height="302.76" fill="#8a1219"/>
<rect x="376.6" y="419.78" width="13.00" height="292.32" fill="#a6181d"/>
<rect x="376.6" y="430.22" width="13.00" height="281.88" fill="#bb1e22"/>
<rect x="376.6" y="440.66" width="13.00" height="271.44" fill="#cb2426"/>
<rect x="376.6" y="451.10" width="13.00" height="261.00" fill="#da2a27"/>
<rect x="376.6" y="461.54" width="13.00" height="250.56" fill="#e8352b"/>
<rect x="376.6" y="471.98" width="13.00" height="240.12" fill="#ef4a35"/>
<rect x="376.6" y="482.42" width="13.00" height="229.68" fill="#f06248"/>
<rect x="376.6" y="492.86" width="13.00" height="219.24" fill="#ef7a5e"/>
<rect x="376.6" y="503.30" width="13.00" height="208.80" fill="#ee9278"/>
<rect x="376.6" y="513.74" width="13.00" height="198.36" fill="#eda88e"/>
<rect x="376.6" y="524.18" width="13.00" height="187.92" fill="#f0c0a8"/>
<rect x="376.6" y="534.62" width="13.00" height="177.48" fill="#f2d5c5"/>
<rect x="376.6" y="545.06" width="13.00" height="167.04" fill="#eee0dc"/>
<rect x="376.6" y="555.50" width="13.00" height="156.60" fill="#e4e6f0"/>
<rect x="376.6" y="565.94" width="13.00" height="146.16" fill="#d5e6f2"/>
<rect x="376.6" y="576.38" width="13.00" height="135.72" fill="#c8dfee"/>
<rect x="376.6" y="586.82" width="13.00" height="125.28" fill="#b8d9eb"/>
<rect x="376.6" y="597.26" width="13.00" height="114.84" fill="#a9d2e6"/>
<rect x="376.6" y="607.70" width="13.00" height="104.40" fill="#92c5de"/>
<rect x="376.6" y="618.14" width="13.00" height="93.96" fill="#7fb8d8"/>
<rect x="376.6" y="628.58" width="13.00" height="83.52" fill="#6aaad0"/>
<rect x="376.6" y="639.02" width="13.00" height="73.08" fill="#5a9bc8"/>
<rect x="376.6" y="649.46" width="13.00" height="62.64" fill="#4a8ac2"/>
<rect x="376.6" y="659.90" width="13.00" height="52.20" fill="#4079bb"/>
<rect x="376.6" y="670.34" width="13.00" height="41.76" fill="#3a6bb0"/>
<rect x="376.6" y="680.78" width="13.00" height="31.32" fill="#3059a2"/>
<rect x="376.6" y="691.22" width="13.00" height="20.88" fill="#264890"/>
<rect x="376.6" y="701.66" width="13.00" height="10.44" fill="#1c3470"/>
<rect x="376.6" y="398.9" width="13.00" height="313.20" fill="none" stroke="#333" stroke-width="1"/>
<line x1="389.6" y1="712.10" x2="395.6" y2="712.10" stroke="#222" stroke-width="1.1"/>
<text x="401.3" y="717.00" class="t14">0.00</text>
<line x1="389.6" y1="649.46" x2="395.6" y2="649.46" stroke="#222" stroke-width="1.1"/>
<text x="401.3" y="654.36" class="t14">0.04</text>
<line x1="389.6" y1="586.82" x2="395.6" y2="586.82" stroke="#222" stroke-width="1.1"/>
<text x="401.3" y="591.72" class="t14">0.08</text>
<line x1="389.6" y1="524.18" x2="395.6" y2="524.18" stroke="#222" stroke-width="1.1"/>
<text x="401.3" y="529.08" class="t14">0.12</text>
<line x1="389.6" y1="461.54" x2="395.6" y2="461.54" stroke="#222" stroke-width="1.1"/>
<text x="401.3" y="466.44" class="t14">0.16</text>
<line x1="389.6" y1="398.90" x2="395.6" y2="398.90" stroke="#222" stroke-width="1.1"/>
<text x="401.3" y="403.80" class="t14">0.20</text>
<text x="383.5" y="387.8" text-anchor="middle" class="i14">G</text>
<rect x="514.40" y="404.30" width="4.50" height="5.58" fill="#767676" stroke="#5a5a5a" stroke-opacity="0.55" stroke-width="0.7"/>
<rect x="518.90" y="404.30" width="135.70" height="5.58" fill="#E9656F" stroke="#5a5a5a" stroke-opacity="0.55" stroke-width="0.7"/>
<rect x="654.60" y="404.30" width="17.90" height="5.58" fill="#6296E8" stroke="#5a5a5a" stroke-opacity="0.55" stroke-width="0.7"/>
<rect x="514.40" y="409.88" width="3.00" height="5.58" fill="#767676" stroke="#5a5a5a" stroke-opacity="0.55" stroke-width="0.7"/>
<rect x="517.40" y="409.88" width="149.10" height="5.58" fill="#E9656F" stroke="#5a5a5a" stroke-opacity="0.55" stroke-width="0.7"/>
<rect x="666.50" y="409.88" width="6.00" height="5.58" fill="#6296E8" stroke="#5a5a5a" stroke-opacity="0.55" stroke-width="0.7"/>
<rect x="514.40" y="415.46" width="3.00" height="5.58" fill="#767676" stroke="#5a5a5a" stroke-opacity="0.55" stroke-width="0.7"/>
<rect x="517.40" y="415.46" width="149.60" height="5.58" fill="#E9656F" stroke="#5a5a5a" stroke-opacity="0.55" stroke-width="0.7"/>
<rect x="667.00" y="415.46" width="5.50" height="5.58" fill="#6296E8" stroke="#5a5a5a" stroke-opacity="0.55" stroke-width="0.7"/>
<rect x="514.40" y="421.04" width="3.00" height="5.58" fill="#767676" stroke="#5a5a5a" stroke-opacity="0.55" stroke-width="0.7"/>
<rect x="517.40" y="421.04" width="149.80" height="5.58" fill="#E9656F" stroke="#5a5a5a" stroke-opacity="0.55" stroke-width="0.7"/>
<rect x="667.20" y="421.04" width="5.30" height="5.58" fill="#6296E8" stroke="#5a5a5a" stroke-opacity="0.55" stroke-width="0.7"/>
<rect x="514.40" y="433.22" width="5.00" height="5.58" fill="#767676" stroke="#5a5a5a" stroke-opacity="0.55" stroke-width="0.7"/>
<rect x="519.40" y="433.22" width="134.30" height="5.58" fill="#E9656F" stroke="#5a5a5a" stroke-opacity="0.55" stroke-width="0.7"/>
<rect x="653.70" y="433.22" width="18.80" height="5.58" fill="#6296E8" stroke="#5a5a5a" stroke-opacity="0.55" stroke-width="0.7"/>
<rect x="514.40" y="438.80" width="3.90" height="5.58" fill="#767676" stroke="#5a5a5a" stroke-opacity="0.55" stroke-width="0.7"/>
<rect x="518.30" y="438.80" width="144.60" height="5.58" fill="#E9656F" stroke="#5a5a5a" stroke-opacity="0.55" stroke-width="0.7"/>
<rect x="662.90" y="438.80" width="9.60" height="5.58" fill="#6296E8" stroke="#5a5a5a" stroke-opacity="0.55" stroke-width="0.7"/>
<rect x="514.40" y="444.38" width="3.60" height="5.58" fill="#767676" stroke="#5a5a5a" stroke-opacity="0.55" stroke-width="0.7"/>
<rect x="518.00" y="444.38" width="145.60" height="5.58" fill="#E9656F" stroke="#5a5a5a" stroke-opacity="0.55" stroke-width="0.7"/>
<rect x="663.60" y="444.38" width="8.90" height="5.58" fill="#6296E8" stroke="#5a5a5a" stroke-opacity="0.55" stroke-width="0.7"/>
<rect x="514.40" y="449.96" width="3.60" height="5.58" fill="#767676" stroke="#5a5a5a" stroke-opacity="0.55" stroke-width="0.7"/>
<rect x="518.00" y="449.96" width="146.10" height="5.58" fill="#E9656F" stroke="#5a5a5a" stroke-opacity="0.55" stroke-width="0.7"/>
<rect x="664.10" y="449.96" width="8.40" height="5.58" fill="#6296E8" stroke="#5a5a5a" stroke-opacity="0.55" stroke-width="0.7"/>
<rect x="514.40" y="462.14" width="3.00" height="5.58" fill="#767676" stroke="#5a5a5a" stroke-opacity="0.55" stroke-width="0.7"/>
<rect x="517.40" y="462.14" width="149.20" height="5.58" fill="#E9656F" stroke="#5a5a5a" stroke-opacity="0.55" stroke-width="0.7"/>
<rect x="666.60" y="462.14" width="5.90" height="5.58" fill="#6296E8" stroke="#5a5a5a" stroke-opacity="0.55" stroke-width="0.7"/>
<rect x="514.40" y="467.72" width="2.20" height="5.58" fill="#767676" stroke="#5a5a5a" stroke-opacity="0.55" stroke-width="0.7"/>
<rect x="516.60" y="467.72" width="153.00" height="5.58" fill="#E9656F" stroke="#5a5a5a" stroke-opacity="0.55" stroke-width="0.7"/>
<rect x="669.60" y="467.72" width="2.90" height="5.58" fill="#6296E8" stroke="#5a5a5a" stroke-opacity="0.55" stroke-width="0.7"/>
<rect x="514.40" y="473.30" width="2.20" height="5.58" fill="#767676" stroke="#5a5a5a" stroke-opacity="0.55" stroke-width="0.7"/>
<rect x="516.60" y="473.30" width="152.70" height="5.58" fill="#E9656F" stroke="#5a5a5a" stroke-opacity="0.55" stroke-width="0.7"/>
<rect x="669.30" y="473.30" width="3.20" height="5.58" fill="#6296E8" stroke="#5a5a5a" stroke-opacity="0.55" stroke-width="0.7"/>
<rect x="514.40" y="478.88" width="2.20" height="5.58" fill="#767676" stroke="#5a5a5a" stroke-opacity="0.55" stroke-width="0.7"/>
<rect x="516.60" y="478.88" width="152.50" height="5.58" fill="#E9656F" stroke="#5a5a5a" stroke-opacity="0.55" stroke-width="0.7"/>
<rect x="669.10" y="478.88" width="3.40" height="5.58" fill="#6296E8" stroke="#5a5a5a" stroke-opacity="0.55" stroke-width="0.7"/>
<rect x="514.40" y="491.06" width="5.00" height="5.58" fill="#767676" stroke="#5a5a5a" stroke-opacity="0.55" stroke-width="0.7"/>
<rect x="519.40" y="491.06" width="135.40" height="5.58" fill="#E9656F" stroke="#5a5a5a" stroke-opacity="0.55" stroke-width="0.7"/>
<rect x="654.80" y="491.06" width="17.70" height="5.58" fill="#6296E8" stroke="#5a5a5a" stroke-opacity="0.55" stroke-width="0.7"/>
<rect x="514.40" y="496.64" width="4.50" height="5.58" fill="#767676" stroke="#5a5a5a" stroke-opacity="0.55" stroke-width="0.7"/>
<rect x="518.90" y="496.64" width="139.60" height="5.58" fill="#E9656F" stroke="#5a5a5a" stroke-opacity="0.55" stroke-width="0.7"/>
<rect x="658.50" y="496.64" width="14.00" height="5.58" fill="#6296E8" stroke="#5a5a5a" stroke-opacity="0.55" stroke-width="0.7"/>
<rect x="514.40" y="502.22" width="4.50" height="5.58" fill="#767676" stroke="#5a5a5a" stroke-opacity="0.55" stroke-width="0.7"/>
<rect x="518.90" y="502.22" width="140.90" height="5.58" fill="#E9656F" stroke="#5a5a5a" stroke-opacity="0.55" stroke-width="0.7"/>
<rect x="659.80" y="502.22" width="12.70" height="5.58" fill="#6296E8" stroke="#5a5a5a" stroke-opacity="0.55" stroke-width="0.7"/>
<rect x="514.40" y="507.80" width="4.50" height="5.58" fill="#767676" stroke="#5a5a5a" stroke-opacity="0.55" stroke-width="0.7"/>
<rect x="518.90" y="507.80" width="141.60" height="5.58" fill="#E9656F" stroke="#5a5a5a" stroke-opacity="0.55" stroke-width="0.7"/>
<rect x="660.50" y="507.80" width="12.00" height="5.58" fill="#6296E8" stroke="#5a5a5a" stroke-opacity="0.55" stroke-width="0.7"/>
<rect x="514.40" y="519.98" width="2.70" height="5.58" fill="#767676" stroke="#5a5a5a" stroke-opacity="0.55" stroke-width="0.7"/>
<rect x="517.10" y="519.98" width="149.20" height="5.58" fill="#E9656F" stroke="#5a5a5a" stroke-opacity="0.55" stroke-width="0.7"/>
<rect x="666.30" y="519.98" width="6.20" height="5.58" fill="#6296E8" stroke="#5a5a5a" stroke-opacity="0.55" stroke-width="0.7"/>
<rect x="514.40" y="525.56" width="2.20" height="5.58" fill="#767676" stroke="#5a5a5a" stroke-opacity="0.55" stroke-width="0.7"/>
<rect x="516.60" y="525.56" width="151.50" height="5.58" fill="#E9656F" stroke="#5a5a5a" stroke-opacity="0.55" stroke-width="0.7"/>
<rect x="668.10" y="525.56" width="4.40" height="5.58" fill="#6296E8" stroke="#5a5a5a" stroke-opacity="0.55" stroke-width="0.7"/>
<rect x="514.40" y="531.14" width="2.20" height="5.58" fill="#767676" stroke="#5a5a5a" stroke-opacity="0.55" stroke-width="0.7"/>
<rect x="516.60" y="531.14" width="150.00" height="5.58" fill="#E9656F" stroke="#5a5a5a" stroke-opacity="0.55" stroke-width="0.7"/>
<rect x="666.60" y="531.14" width="5.90" height="5.58" fill="#6296E8" stroke="#5a5a5a" stroke-opacity="0.55" stroke-width="0.7"/>
<rect x="514.40" y="536.72" width="2.20" height="5.58" fill="#767676" stroke="#5a5a5a" stroke-opacity="0.55" stroke-width="0.7"/>
<rect x="516.60" y="536.72" width="149.70" height="5.58" fill="#E9656F" stroke="#5a5a5a" stroke-opacity="0.55" stroke-width="0.7"/>
<rect x="666.30" y="536.72" width="6.20" height="5.58" fill="#6296E8" stroke="#5a5a5a" stroke-opacity="0.55" stroke-width="0.7"/>
<rect x="514.40" y="548.90" width="4.50" height="5.58" fill="#767676" stroke="#5a5a5a" stroke-opacity="0.55" stroke-width="0.7"/>
<rect x="518.90" y="548.90" width="134.10" height="5.58" fill="#E9656F" stroke="#5a5a5a" stroke-opacity="0.55" stroke-width="0.7"/>
<rect x="653.00" y="548.90" width="19.50" height="5.58" fill="#6296E8" stroke="#5a5a5a" stroke-opacity="0.55" stroke-width="0.7"/>
<rect x="514.40" y="554.48" width="3.40" height="5.58" fill="#767676" stroke="#5a5a5a" stroke-opacity="0.55" stroke-width="0.7"/>
<rect x="517.80" y="554.48" width="146.50" height="5.58" fill="#E9656F" stroke="#5a5a5a" stroke-opacity="0.55" stroke-width="0.7"/>
<rect x="664.30" y="554.48" width="8.20" height="5.58" fill="#6296E8" stroke="#5a5a5a" stroke-opacity="0.55" stroke-width="0.7"/>
<rect x="514.40" y="560.06" width="3.40" height="5.58" fill="#767676" stroke="#5a5a5a" stroke-opacity="0.55" stroke-width="0.7"/>
<rect x="517.80" y="560.06" width="146.80" height="5.58" fill="#E9656F" stroke="#5a5a5a" stroke-opacity="0.55" stroke-width="0.7"/>
<rect x="664.60" y="560.06" width="7.90" height="5.58" fill="#6296E8" stroke="#5a5a5a" stroke-opacity="0.55" stroke-width="0.7"/>
<rect x="514.40" y="565.64" width="3.40" height="5.58" fill="#767676" stroke="#5a5a5a" stroke-opacity="0.55" stroke-width="0.7"/>
<rect x="517.80" y="565.64" width="147.60" height="5.58" fill="#E9656F" stroke="#5a5a5a" stroke-opacity="0.55" stroke-width="0.7"/>
<rect x="665.40" y="565.64" width="7.10" height="5.58" fill="#6296E8" stroke="#5a5a5a" stroke-opacity="0.55" stroke-width="0.7"/>
<rect x="514.40" y="577.82" width="4.50" height="5.58" fill="#767676" stroke="#5a5a5a" stroke-opacity="0.55" stroke-width="0.7"/>
<rect x="518.90" y="577.82" width="136.80" height="5.58" fill="#E9656F" stroke="#5a5a5a" stroke-opacity="0.55" stroke-width="0.7"/>
<rect x="655.70" y="577.82" width="16.80" height="5.58" fill="#6296E8" stroke="#5a5a5a" stroke-opacity="0.55" stroke-width="0.7"/>
<rect x="514.40" y="583.40" width="4.20" height="5.58" fill="#767676" stroke="#5a5a5a" stroke-opacity="0.55" stroke-width="0.7"/>
<rect x="518.60" y="583.40" width="140.90" height="5.58" fill="#E9656F" stroke="#5a5a5a" stroke-opacity="0.55" stroke-width="0.7"/>
<rect x="659.50" y="583.40" width="13.00" height="5.58" fill="#6296E8" stroke="#5a5a5a" stroke-opacity="0.55" stroke-width="0.7"/>
<rect x="514.40" y="588.98" width="4.20" height="5.58" fill="#767676" stroke="#5a5a5a" stroke-opacity="0.55" stroke-width="0.7"/>
<rect x="518.60" y="588.98" width="141.90" height="5.58" fill="#E9656F" stroke="#5a5a5a" stroke-opacity="0.55" stroke-width="0.7"/>
<rect x="660.50" y="588.98" width="12.00" height="5.58" fill="#6296E8" stroke="#5a5a5a" stroke-opacity="0.55" stroke-width="0.7"/>
<rect x="514.40" y="594.56" width="4.20" height="5.58" fill="#767676" stroke="#5a5a5a" stroke-opacity="0.55" stroke-width="0.7"/>
<rect x="518.60" y="594.56" width="142.40" height="5.58" fill="#E9656F" stroke="#5a5a5a" stroke-opacity="0.55" stroke-width="0.7"/>
<rect x="661.00" y="594.56" width="11.50" height="5.58" fill="#6296E8" stroke="#5a5a5a" stroke-opacity="0.55" stroke-width="0.7"/>
<rect x="514.40" y="606.74" width="3.00" height="5.58" fill="#767676" stroke="#5a5a5a" stroke-opacity="0.55" stroke-width="0.7"/>
<rect x="517.40" y="606.74" width="148.90" height="5.58" fill="#E9656F" stroke="#5a5a5a" stroke-opacity="0.55" stroke-width="0.7"/>
<rect x="666.30" y="606.74" width="6.20" height="5.58" fill="#6296E8" stroke="#5a5a5a" stroke-opacity="0.55" stroke-width="0.7"/>
<rect x="514.40" y="612.32" width="2.40" height="5.58" fill="#767676" stroke="#5a5a5a" stroke-opacity="0.55" stroke-width="0.7"/>
<rect x="516.80" y="612.32" width="151.70" height="5.58" fill="#E9656F" stroke="#5a5a5a" stroke-opacity="0.55" stroke-width="0.7"/>
<rect x="668.50" y="612.32" width="4.00" height="5.58" fill="#6296E8" stroke="#5a5a5a" stroke-opacity="0.55" stroke-width="0.7"/>
<rect x="514.40" y="617.90" width="2.40" height="5.58" fill="#767676" stroke="#5a5a5a" stroke-opacity="0.55" stroke-width="0.7"/>
<rect x="516.80" y="617.90" width="152.50" height="5.58" fill="#E9656F" stroke="#5a5a5a" stroke-opacity="0.55" stroke-width="0.7"/>
<rect x="669.30" y="617.90" width="3.20" height="5.58" fill="#6296E8" stroke="#5a5a5a" stroke-opacity="0.55" stroke-width="0.7"/>
<rect x="514.40" y="623.48" width="2.40" height="5.58" fill="#767676" stroke="#5a5a5a" stroke-opacity="0.55" stroke-width="0.7"/>
<rect x="516.80" y="623.48" width="152.00" height="5.58" fill="#E9656F" stroke="#5a5a5a" stroke-opacity="0.55" stroke-width="0.7"/>
<rect x="668.80" y="623.48" width="3.70" height="5.58" fill="#6296E8" stroke="#5a5a5a" stroke-opacity="0.55" stroke-width="0.7"/>
<rect x="514.40" y="635.66" width="5.00" height="5.58" fill="#767676" stroke="#5a5a5a" stroke-opacity="0.55" stroke-width="0.7"/>
<rect x="519.40" y="635.66" width="127.20" height="5.58" fill="#E9656F" stroke="#5a5a5a" stroke-opacity="0.55" stroke-width="0.7"/>
<rect x="646.60" y="635.66" width="25.90" height="5.58" fill="#6296E8" stroke="#5a5a5a" stroke-opacity="0.55" stroke-width="0.7"/>
<rect x="514.40" y="641.24" width="4.50" height="5.58" fill="#767676" stroke="#5a5a5a" stroke-opacity="0.55" stroke-width="0.7"/>
<rect x="518.90" y="641.24" width="129.50" height="5.58" fill="#E9656F" stroke="#5a5a5a" stroke-opacity="0.55" stroke-width="0.7"/>
<rect x="648.40" y="641.24" width="24.10" height="5.58" fill="#6296E8" stroke="#5a5a5a" stroke-opacity="0.55" stroke-width="0.7"/>
<rect x="514.40" y="646.82" width="4.20" height="5.58" fill="#767676" stroke="#5a5a5a" stroke-opacity="0.55" stroke-width="0.7"/>
<rect x="518.60" y="646.82" width="137.80" height="5.58" fill="#E9656F" stroke="#5a5a5a" stroke-opacity="0.55" stroke-width="0.7"/>
<rect x="656.40" y="646.82" width="16.10" height="5.58" fill="#6296E8" stroke="#5a5a5a" stroke-opacity="0.55" stroke-width="0.7"/>
<rect x="514.40" y="652.40" width="4.20" height="5.58" fill="#767676" stroke="#5a5a5a" stroke-opacity="0.55" stroke-width="0.7"/>
<rect x="518.60" y="652.40" width="141.20" height="5.58" fill="#E9656F" stroke="#5a5a5a" stroke-opacity="0.55" stroke-width="0.7"/>
<rect x="659.80" y="652.40" width="12.70" height="5.58" fill="#6296E8" stroke="#5a5a5a" stroke-opacity="0.55" stroke-width="0.7"/>
<rect x="514.40" y="664.58" width="3.00" height="5.58" fill="#767676" stroke="#5a5a5a" stroke-opacity="0.55" stroke-width="0.7"/>
<rect x="517.40" y="664.58" width="148.90" height="5.58" fill="#E9656F" stroke="#5a5a5a" stroke-opacity="0.55" stroke-width="0.7"/>
<rect x="666.30" y="664.58" width="6.20" height="5.58" fill="#6296E8" stroke="#5a5a5a" stroke-opacity="0.55" stroke-width="0.7"/>
<rect x="514.40" y="670.16" width="2.40" height="5.58" fill="#767676" stroke="#5a5a5a" stroke-opacity="0.55" stroke-width="0.7"/>
<rect x="516.80" y="670.16" width="151.70" height="5.58" fill="#E9656F" stroke="#5a5a5a" stroke-opacity="0.55" stroke-width="0.7"/>
<rect x="668.50" y="670.16" width="4.00" height="5.58" fill="#6296E8" stroke="#5a5a5a" stroke-opacity="0.55" stroke-width="0.7"/>
<rect x="514.40" y="675.74" width="2.40" height="5.58" fill="#767676" stroke="#5a5a5a" stroke-opacity="0.55" stroke-width="0.7"/>
<rect x="516.80" y="675.74" width="152.50" height="5.58" fill="#E9656F" stroke="#5a5a5a" stroke-opacity="0.55" stroke-width="0.7"/>
<rect x="669.30" y="675.74" width="3.20" height="5.58" fill="#6296E8" stroke="#5a5a5a" stroke-opacity="0.55" stroke-width="0.7"/>
<rect x="514.40" y="681.32" width="2.40" height="5.58" fill="#767676" stroke="#5a5a5a" stroke-opacity="0.55" stroke-width="0.7"/>
<rect x="516.80" y="681.32" width="152.50" height="5.58" fill="#E9656F" stroke="#5a5a5a" stroke-opacity="0.55" stroke-width="0.7"/>
<rect x="669.30" y="681.32" width="3.20" height="5.58" fill="#6296E8" stroke="#5a5a5a" stroke-opacity="0.55" stroke-width="0.7"/>
<rect x="514.40" y="693.50" width="3.40" height="5.58" fill="#767676" stroke="#5a5a5a" stroke-opacity="0.55" stroke-width="0.7"/>
<rect x="517.80" y="693.50" width="143.70" height="5.58" fill="#E9656F" stroke="#5a5a5a" stroke-opacity="0.55" stroke-width="0.7"/>
<rect x="661.50" y="693.50" width="11.00" height="5.58" fill="#6296E8" stroke="#5a5a5a" stroke-opacity="0.55" stroke-width="0.7"/>
<rect x="514.40" y="699.08" width="2.70" height="5.58" fill="#767676" stroke="#5a5a5a" stroke-opacity="0.55" stroke-width="0.7"/>
<rect x="517.10" y="699.08" width="149.90" height="5.58" fill="#E9656F" stroke="#5a5a5a" stroke-opacity="0.55" stroke-width="0.7"/>
<rect x="667.00" y="699.08" width="5.50" height="5.58" fill="#6296E8" stroke="#5a5a5a" stroke-opacity="0.55" stroke-width="0.7"/>
<rect x="514.40" y="704.66" width="2.70" height="5.58" fill="#767676" stroke="#5a5a5a" stroke-opacity="0.55" stroke-width="0.7"/>
<rect x="517.10" y="704.66" width="150.20" height="5.58" fill="#E9656F" stroke="#5a5a5a" stroke-opacity="0.55" stroke-width="0.7"/>
<rect x="667.30" y="704.66" width="5.20" height="5.58" fill="#6296E8" stroke="#5a5a5a" stroke-opacity="0.55" stroke-width="0.7"/>
<rect x="514.40" y="710.24" width="2.70" height="5.58" fill="#767676" stroke="#5a5a5a" stroke-opacity="0.55" stroke-width="0.7"/>
<rect x="517.10" y="710.24" width="150.20" height="5.58" fill="#E9656F" stroke="#5a5a5a" stroke-opacity="0.55" stroke-width="0.7"/>
<rect x="667.30" y="710.24" width="5.20" height="5.58" fill="#6296E8" stroke="#5a5a5a" stroke-opacity="0.55" stroke-width="0.7"/>
<rect x="514.40" y="722.42" width="3.40" height="5.58" fill="#767676" stroke="#5a5a5a" stroke-opacity="0.55" stroke-width="0.7"/>
<rect x="517.80" y="722.42" width="144.50" height="5.58" fill="#E9656F" stroke="#5a5a5a" stroke-opacity="0.55" stroke-width="0.7"/>
<rect x="662.30" y="722.42" width="10.20" height="5.58" fill="#6296E8" stroke="#5a5a5a" stroke-opacity="0.55" stroke-width="0.7"/>
<rect x="514.40" y="728.00" width="3.00" height="5.58" fill="#767676" stroke="#5a5a5a" stroke-opacity="0.55" stroke-width="0.7"/>
<rect x="517.40" y="728.00" width="149.70" height="5.58" fill="#E9656F" stroke="#5a5a5a" stroke-opacity="0.55" stroke-width="0.7"/>
<rect x="667.10" y="728.00" width="5.40" height="5.58" fill="#6296E8" stroke="#5a5a5a" stroke-opacity="0.55" stroke-width="0.7"/>
<rect x="514.40" y="733.58" width="3.00" height="5.58" fill="#767676" stroke="#5a5a5a" stroke-opacity="0.55" stroke-width="0.7"/>
<rect x="517.40" y="733.58" width="149.70" height="5.58" fill="#E9656F" stroke="#5a5a5a" stroke-opacity="0.55" stroke-width="0.7"/>
<rect x="667.10" y="733.58" width="5.40" height="5.58" fill="#6296E8" stroke="#5a5a5a" stroke-opacity="0.55" stroke-width="0.7"/>
<rect x="514.40" y="739.16" width="3.00" height="5.58" fill="#767676" stroke="#5a5a5a" stroke-opacity="0.55" stroke-width="0.7"/>
<rect x="517.40" y="739.16" width="149.90" height="5.58" fill="#E9656F" stroke="#5a5a5a" stroke-opacity="0.55" stroke-width="0.7"/>
<rect x="667.30" y="739.16" width="5.20" height="5.58" fill="#6296E8" stroke="#5a5a5a" stroke-opacity="0.55" stroke-width="0.7"/>
<line x1="514.0" y1="400.3" x2="514.0" y2="747.2" stroke="#222" stroke-width="1.3"/>
<line x1="513.35" y1="746.6" x2="673.15" y2="746.6" stroke="#222" stroke-width="1.3"/>
<line x1="508.0" y1="404.30" x2="514.0" y2="404.30" stroke="#222" stroke-width="1.3"/>
<text x="508.7" y="422.90" text-anchor="end" class="i14c">CASV</text>
<line x1="508.0" y1="433.22" x2="514.0" y2="433.22" stroke="#222" stroke-width="1.3"/>
<text x="508.7" y="451.82" text-anchor="end" class="i14c">HSV</text>
<line x1="508.0" y1="462.14" x2="514.0" y2="462.14" stroke="#222" stroke-width="1.3"/>
<text x="508.7" y="480.74" text-anchor="end" class="i14c">MSFV</text>
<line x1="508.0" y1="491.06" x2="514.0" y2="491.06" stroke="#222" stroke-width="1.3"/>
<text x="508.7" y="509.66" text-anchor="end" class="i14c">EPV</text>
<line x1="508.0" y1="519.98" x2="514.0" y2="519.98" stroke="#222" stroke-width="1.3"/>
<text x="508.7" y="538.58" text-anchor="end" class="i14c">RWFV</text>
<line x1="508.0" y1="548.90" x2="514.0" y2="548.90" stroke="#222" stroke-width="1.3"/>
<text x="508.7" y="567.50" text-anchor="end" class="i14c">WTV</text>
<line x1="508.0" y1="577.82" x2="514.0" y2="577.82" stroke="#222" stroke-width="1.3"/>
<text x="508.7" y="596.42" text-anchor="end" class="i14c">CRV</text>
<line x1="508.0" y1="606.74" x2="514.0" y2="606.74" stroke="#222" stroke-width="1.3"/>
<text x="508.7" y="625.34" text-anchor="end" class="i14c">AQRV</text>
<line x1="508.0" y1="635.66" x2="514.0" y2="635.66" stroke="#222" stroke-width="1.3"/>
<text x="508.7" y="654.26" text-anchor="end" class="i14c">WSV</text>
<line x1="508.0" y1="664.58" x2="514.0" y2="664.58" stroke="#222" stroke-width="1.3"/>
<text x="508.7" y="683.18" text-anchor="end" class="i14c">RMSV</text>
<line x1="508.0" y1="693.50" x2="514.0" y2="693.50" stroke="#222" stroke-width="1.3"/>
<text x="508.7" y="712.10" text-anchor="end" class="i14c">FSV</text>
<line x1="508.0" y1="722.42" x2="514.0" y2="722.42" stroke="#222" stroke-width="1.3"/>
<text x="508.7" y="739.02" text-anchor="end" class="i14c">Total ESV</text>
<line x1="514.00" y1="746.6" x2="514.00" y2="752.90" stroke="#222" stroke-width="1.3"/>
<text x="514.00" y="769.4" text-anchor="middle" class="t14">0</text>
<line x1="529.85" y1="746.6" x2="529.85" y2="750.10" stroke="#222" stroke-width="1.3"/>
<line x1="545.70" y1="746.6" x2="545.70" y2="752.90" stroke="#222" stroke-width="1.3"/>
<text x="545.70" y="769.4" text-anchor="middle" class="t14">20</text>
<line x1="561.55" y1="746.6" x2="561.55" y2="750.10" stroke="#222" stroke-width="1.3"/>
<line x1="577.40" y1="746.6" x2="577.40" y2="752.90" stroke="#222" stroke-width="1.3"/>
<text x="577.40" y="769.4" text-anchor="middle" class="t14">40</text>
<line x1="593.25" y1="746.6" x2="593.25" y2="750.10" stroke="#222" stroke-width="1.3"/>
<line x1="609.10" y1="746.6" x2="609.10" y2="752.90" stroke="#222" stroke-width="1.3"/>
<text x="609.10" y="769.4" text-anchor="middle" class="t14">60</text>
<line x1="624.95" y1="746.6" x2="624.95" y2="750.10" stroke="#222" stroke-width="1.3"/>
<line x1="640.80" y1="746.6" x2="640.80" y2="752.90" stroke="#222" stroke-width="1.3"/>
<text x="640.80" y="769.4" text-anchor="middle" class="t14">80</text>
<line x1="656.65" y1="746.6" x2="656.65" y2="750.10" stroke="#222" stroke-width="1.3"/>
<line x1="672.50" y1="746.6" x2="672.50" y2="752.90" stroke="#222" stroke-width="1.3"/>
<text x="672.50" y="769.4" text-anchor="middle" class="t14">100</text>
<text x="593.3" y="788.4" text-anchor="middle" style="font-size:14.45px">Contribution rate (%)</text>
<text transform="translate(455.8,567.6) rotate(-90)" text-anchor="middle" class="i16" style="font-size:15.2px">ESVs</text>
<text transform="translate(443.5,396.3) scale(1,1.08)" class="lab">c</text>
<rect x="503.9" y="380.5" width="28.5" height="13.9" fill="#767676" stroke="#666" stroke-width="0.6"/>
<text x="536.6" y="392.2" class="i13">Gw</text>
<rect x="564.9" y="380.5" width="28.5" height="13.9" fill="#E9656F" stroke="#666" stroke-width="0.6"/>
<text x="598.2" y="392.2" class="i13">Gnb</text>
<rect x="627.3" y="380.5" width="28.5" height="13.9" fill="#6296E8" stroke="#666" stroke-width="0.6"/>
<text x="660.6" y="392.2" class="i13">Gt</text>
</svg></body></html>
